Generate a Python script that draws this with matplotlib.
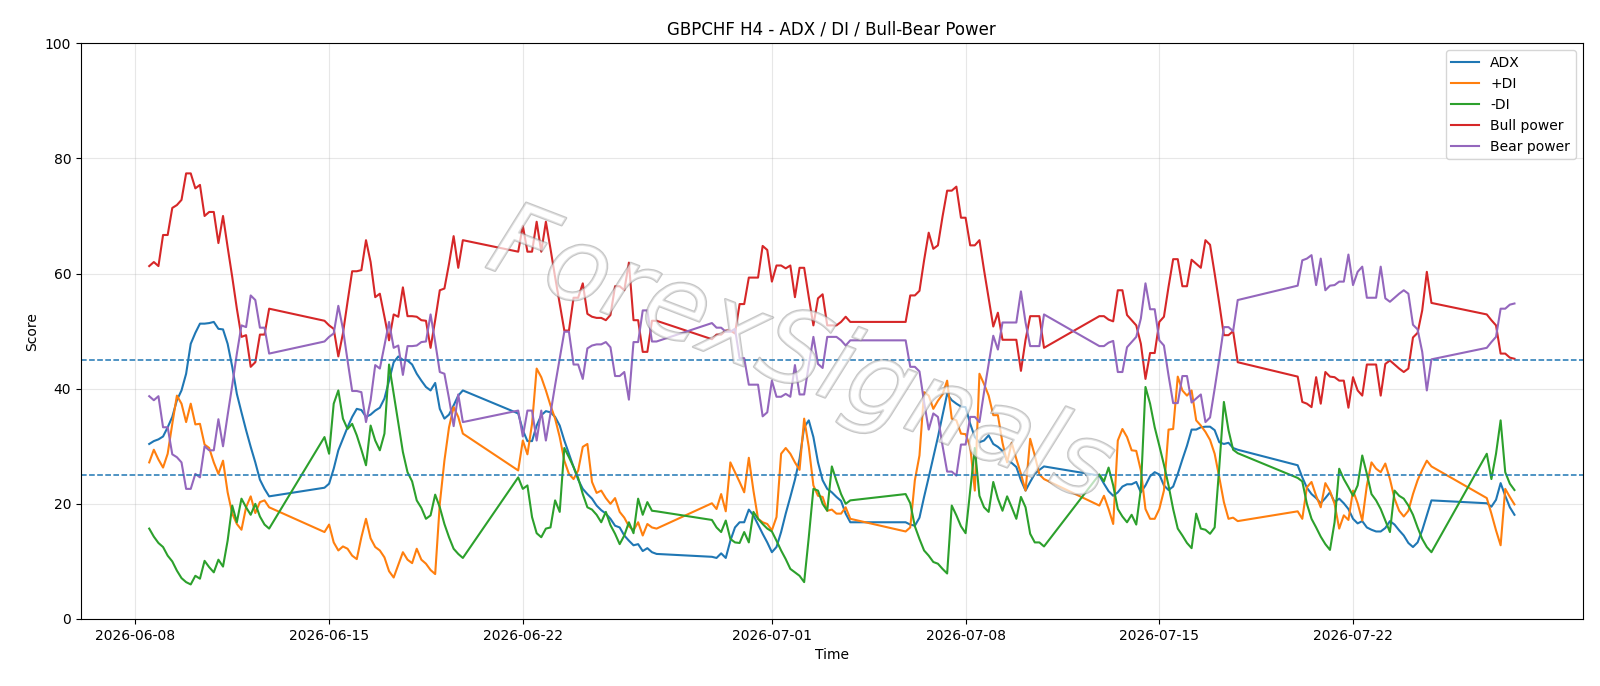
import matplotlib
matplotlib.use("Agg")
import matplotlib.pyplot as plt
import matplotlib.dates as mdates
import matplotlib.patheffects as pe
import pandas as pd

# H4 trading sessions (start, end) -- bars every 4 hours inside each session
sessions = [
    ("2026-06-08 12:00", "2026-06-12 20:00"),
    ("2026-06-14 20:00", "2026-06-19 20:00"),
    ("2026-06-21 20:00", "2026-06-26 20:00"),
    ("2026-06-28 20:00", "2026-07-03 20:00"),
    ("2026-07-05 20:00", "2026-07-10 20:00"),
    ("2026-07-12 20:00", "2026-07-17 20:00"),
    ("2026-07-20 00:00", "2026-07-24 20:00"),
    ("2026-07-26 20:00", "2026-07-27 20:00"),
]

adx = [
    30.4, 30.9, 31.2, 31.7, 33.3, 35.1, 38.0, 39.7, 42.6, 47.8, 49.7, 51.3, 51.3, 51.4, 51.6, 50.4, 50.3, 47.8, 43.8, 39.1, 35.9, 32.8, 29.9, 27.2, 24.2, 22.6, 21.3,
    22.8, 23.5, 26.1, 29.3, 31.3, 33.3, 35.1, 36.5, 36.3, 35.1, 35.5, 36.2, 36.7, 38.3, 41.4, 44.6, 45.6, 45.0, 44.9, 44.2, 42.6, 41.4, 40.3, 39.7, 41.0, 36.5, 34.8, 35.5, 37.1, 38.8, 39.7,
    35.7, 32.8, 30.9, 30.9, 33.6, 35.4, 36.1, 35.9, 35.1, 33.6, 31.0, 28.7, 26.4, 24.2, 22.6, 21.7, 20.9, 19.7, 18.9, 18.3, 17.4, 16.2, 15.9, 14.5, 13.6, 12.8, 13.0, 11.8, 12.3, 11.6, 11.3,
    10.8, 10.6, 11.4, 10.6, 13.6, 15.9, 16.8, 16.8, 19.0, 18.0, 16.4, 14.8, 13.3, 11.6, 12.5, 15.1, 18.3, 21.2, 24.2, 27.8, 33.3, 34.5, 31.6, 27.2, 24.1, 22.6, 22.0, 21.2, 20.5, 18.3, 16.8,
    16.8, 16.4, 16.2, 17.6, 21.2, 24.6, 28.1, 31.6, 35.4, 39.1, 38.0, 37.4, 36.9, 36.8, 33.9, 31.6, 30.7, 31.0, 31.9, 30.4, 29.9, 29.2, 27.5, 27.1, 26.4, 24.1, 22.3, 23.8, 25.2, 25.9, 26.5,
    24.9, 23.5, 22.2, 21.4, 22.0, 23.0, 23.4, 23.4, 23.8, 22.0, 23.2, 24.8, 25.5, 25.1, 23.2, 22.4, 23.0, 25.2, 27.7, 30.1, 32.9, 32.9, 33.3, 33.4, 33.4, 32.8, 30.7, 30.4, 30.6, 29.7, 29.4,
    26.7, 24.6, 22.8, 21.7, 21.0, 20.1, 21.0, 22.0, 20.3, 20.9, 20.1, 19.1, 17.4, 16.6, 17.0, 15.9, 15.5, 15.2, 15.2, 15.8, 17.0, 16.4, 15.4, 14.5, 13.2, 12.5, 13.3, 15.4, 18.0, 20.6,
    20.1, 19.5, 20.7, 23.6, 21.4, 19.4, 18.1,
]

plus_di = [
    27.2, 29.4, 27.7, 26.3, 28.7, 33.9, 38.8, 37.4, 34.2, 37.4, 33.8, 33.9, 30.3, 29.7, 27.2, 25.2, 27.5, 22.0, 18.3, 16.5, 15.5, 19.4, 21.3, 18.4, 20.3, 20.6, 19.4,
    15.1, 16.4, 13.3, 11.9, 12.6, 12.2, 11.0, 10.4, 14.2, 17.4, 14.0, 12.5, 11.9, 10.7, 8.3, 7.2, 9.4, 11.6, 10.3, 9.7, 12.2, 10.3, 9.6, 8.5, 7.8, 20.0, 27.5, 33.3, 36.8, 35.1, 32.2,
    25.8, 31.0, 28.6, 33.9, 43.5, 42.0, 39.7, 37.1, 34.8, 31.6, 27.5, 25.2, 24.3, 25.8, 29.9, 30.4, 23.8, 21.9, 22.3, 21.0, 20.0, 21.0, 18.6, 17.6, 16.1, 15.4, 16.8, 14.5, 16.5, 15.9, 15.7,
    20.1, 19.1, 21.7, 18.7, 27.2, 25.5, 23.8, 22.0, 28.0, 22.3, 17.4, 16.8, 16.5, 15.4, 17.7, 28.7, 29.7, 28.7, 27.2, 25.9, 34.8, 29.9, 23.2, 21.4, 21.2, 18.8, 19.0, 18.3, 18.3, 19.4, 17.4,
    15.2, 15.9, 24.1, 28.4, 39.4, 38.8, 36.5, 37.9, 39.0, 41.4, 34.8, 34.5, 32.2, 32.1, 29.9, 22.3, 42.6, 40.8, 38.8, 35.4, 35.4, 30.6, 27.2, 30.6, 27.8, 25.2, 22.3, 31.3, 28.4, 25.1, 24.3,
    19.7, 21.4, 19.1, 16.5, 31.0, 33.0, 31.6, 29.3, 29.2, 25.8, 19.1, 17.4, 17.4, 19.1, 22.3, 32.9, 33.0, 42.1, 39.7, 38.8, 39.7, 34.5, 33.6, 32.5, 31.1, 28.7, 24.6, 20.3, 17.4, 17.6, 17.0,
    18.7, 17.4, 22.9, 23.8, 21.4, 19.4, 23.6, 22.2, 20.0, 15.7, 18.0, 17.2, 22.3, 20.1, 17.1, 23.2, 27.2, 26.1, 25.5, 27.0, 24.3, 20.9, 18.8, 17.8, 18.8, 21.7, 24.1, 25.9, 27.5, 26.5,
    21.0, 18.3, 15.4, 12.8, 22.6, 21.2, 19.9,
]

minus_di = [
    15.7, 14.3, 13.2, 12.5, 11.0, 10.0, 8.4, 7.1, 6.4, 6.0, 7.5, 7.0, 10.1, 9.0, 8.1, 10.3, 9.1, 13.6, 19.7, 16.8, 20.9, 19.4, 18.1, 20.0, 17.8, 16.4, 15.7,
    31.6, 28.7, 37.4, 39.7, 34.8, 33.0, 33.9, 31.9, 29.4, 26.7, 33.6, 31.0, 29.3, 32.2, 44.2, 39.1, 33.9, 29.0, 25.5, 23.9, 20.6, 19.3, 17.4, 18.0, 21.6, 19.4, 16.5, 14.2, 12.2, 11.3, 10.6,
    24.6, 22.6, 23.2, 17.7, 14.9, 14.2, 15.7, 15.9, 20.6, 18.6, 29.7, 28.1, 26.4, 24.5, 21.7, 19.4, 19.0, 18.1, 16.8, 18.6, 16.3, 14.8, 13.0, 14.5, 16.8, 14.9, 20.9, 18.1, 20.3, 18.8, 18.7,
    17.2, 15.9, 15.1, 17.1, 13.9, 13.3, 13.2, 15.1, 13.3, 18.6, 17.4, 16.5, 15.7, 15.2, 13.6, 11.9, 10.4, 8.7, 8.1, 7.5, 6.4, 14.2, 22.6, 22.3, 20.0, 18.8, 26.5, 24.0, 21.7, 20.0, 20.6,
    21.7, 20.1, 16.1, 13.9, 11.9, 11.0, 9.9, 9.6, 8.7, 7.9, 19.7, 18.0, 16.1, 14.9, 22.3, 29.7, 21.4, 19.4, 18.6, 23.8, 20.9, 18.8, 21.3, 19.4, 17.4, 21.2, 19.4, 14.8, 13.3, 13.3, 12.6,
    25.1, 23.9, 26.3, 23.2, 19.1, 17.8, 16.8, 18.1, 16.4, 22.6, 40.3, 37.4, 33.3, 30.1, 26.8, 23.2, 19.1, 15.7, 14.5, 13.2, 12.3, 18.3, 15.7, 15.5, 14.8, 15.9, 26.4, 37.7, 32.8, 29.4, 28.8,
    24.5, 23.9, 20.0, 17.4, 15.9, 14.3, 13.0, 12.0, 16.8, 26.1, 24.3, 22.9, 21.4, 23.2, 28.4, 25.2, 21.7, 20.6, 19.1, 17.1, 15.1, 22.3, 21.4, 20.9, 19.7, 18.1, 15.9, 13.9, 12.5, 11.6,
    28.7, 24.3, 28.7, 34.5, 25.5, 23.5, 22.4,
]

bull_power = [
    61.3, 62.0, 61.3, 66.7, 66.7, 71.4, 71.9, 72.8, 77.4, 77.4, 74.8, 75.4, 70.0, 70.7, 70.7, 65.3, 70.0, 64.6, 59.4, 53.9, 49.0, 49.3, 43.8, 44.6, 49.4, 49.4, 53.9,
    51.8, 51.0, 50.4, 45.6, 49.6, 55.1, 60.4, 60.4, 60.6, 65.8, 62.0, 55.9, 56.5, 52.5, 48.4, 52.9, 52.5, 57.6, 52.6, 52.6, 52.5, 51.9, 51.8, 47.1, 51.9, 57.1, 57.4, 61.7, 66.5, 61.0, 65.8,
    63.8, 68.3, 63.8, 63.8, 69.0, 63.8, 69.0, 64.3, 59.4, 54.8, 50.1, 50.1, 55.8, 55.8, 58.3, 53.0, 52.5, 52.3, 52.3, 51.9, 52.8, 57.8, 57.8, 57.1, 61.9, 51.9, 51.9, 46.4, 46.4, 51.8, 51.8,
    48.6, 49.4, 49.4, 50.1, 50.1, 49.6, 54.7, 54.7, 59.3, 59.3, 59.3, 64.8, 64.1, 58.6, 61.4, 61.4, 60.9, 61.4, 55.9, 61.0, 61.0, 55.9, 51.0, 55.7, 56.4, 51.0, 51.0, 51.0, 51.6, 52.5, 51.6,
    51.6, 56.2, 56.2, 57.0, 62.3, 67.1, 64.3, 64.9, 69.9, 74.4, 74.4, 75.1, 69.7, 69.7, 64.9, 64.9, 65.8, 60.6, 55.7, 50.8, 53.2, 48.5, 48.5, 48.5, 48.5, 43.1, 48.5, 52.6, 52.6, 52.6, 47.1,
    52.6, 52.6, 52.0, 51.7, 57.1, 57.1, 52.8, 51.9, 51.0, 47.8, 41.7, 46.2, 46.2, 51.6, 52.5, 57.7, 62.5, 62.5, 57.8, 57.8, 62.4, 61.7, 61.0, 65.8, 65.0, 60.0, 54.8, 49.3, 49.3, 50.0, 44.6,
    42.1, 37.7, 37.4, 36.8, 42.0, 37.4, 42.9, 42.1, 42.0, 41.4, 41.4, 36.7, 42.0, 39.7, 38.8, 44.2, 44.2, 44.2, 38.8, 44.3, 44.9, 44.2, 43.5, 42.9, 43.5, 48.9, 49.7, 53.6, 60.3, 54.9,
    52.9, 51.9, 51.0, 46.1, 46.1, 45.4, 45.2,
]

bear_power = [
    38.7, 38.0, 38.7, 33.3, 33.3, 28.6, 28.1, 27.2, 22.6, 22.6, 25.2, 24.6, 30.0, 29.3, 29.3, 34.7, 30.0, 35.4, 40.6, 46.1, 51.0, 50.7, 56.2, 55.4, 50.6, 50.6, 46.1,
    48.2, 49.0, 49.6, 54.4, 50.4, 44.9, 39.6, 39.6, 39.4, 34.2, 38.0, 44.1, 43.5, 47.5, 51.6, 47.1, 47.5, 42.4, 47.4, 47.4, 47.5, 48.1, 48.2, 52.9, 48.1, 42.9, 42.6, 38.3, 33.5, 39.0, 34.2,
    36.2, 31.7, 36.2, 36.2, 31.0, 36.2, 31.0, 35.7, 40.6, 45.2, 49.9, 49.9, 44.2, 44.2, 41.7, 47.0, 47.5, 47.7, 47.7, 48.1, 47.2, 42.2, 42.2, 42.9, 38.1, 48.1, 48.1, 53.6, 53.6, 48.2, 48.2,
    51.4, 50.6, 50.6, 49.9, 49.9, 50.4, 45.3, 45.3, 40.7, 40.7, 40.7, 35.2, 35.9, 41.4, 38.6, 38.6, 39.1, 38.6, 44.1, 39.0, 39.0, 44.1, 49.0, 44.3, 43.6, 49.0, 49.0, 49.0, 48.4, 47.5, 48.4,
    48.4, 43.8, 43.8, 43.0, 37.7, 32.9, 35.7, 35.1, 30.1, 25.6, 25.6, 24.9, 30.3, 30.3, 35.1, 35.1, 34.2, 39.4, 44.3, 49.2, 46.8, 51.5, 51.5, 51.5, 51.5, 56.9, 51.5, 47.4, 47.4, 47.4, 52.9,
    47.4, 47.4, 48.0, 48.3, 42.9, 42.9, 47.2, 48.1, 49.0, 52.2, 58.3, 53.8, 53.8, 48.4, 47.5, 42.3, 37.5, 37.5, 42.2, 42.2, 37.6, 38.3, 39.0, 34.2, 35.0, 40.0, 45.2, 50.7, 50.7, 50.0, 55.4,
    57.9, 62.3, 62.6, 63.2, 58.0, 62.6, 57.1, 57.9, 58.0, 58.6, 58.6, 63.3, 58.0, 60.3, 61.2, 55.8, 55.8, 55.8, 61.2, 55.7, 55.1, 55.8, 56.5, 57.1, 56.5, 51.1, 50.3, 46.4, 39.7, 45.1,
    47.1, 48.1, 49.0, 53.9, 53.9, 54.6, 54.8,
]

series_labels = ["ADX", "+DI", "-DI", "Bull power", "Bear power"]
threshold_levels = [45, 25]
watermark = "ForexSignals"

times = pd.DatetimeIndex(
    pd.concat([pd.Series(pd.date_range(s, e, freq="4h")) for s, e in sessions], ignore_index=True)
)

fig = plt.figure(figsize=(16, 6.86), dpi=100)
ax = fig.add_axes([0.0506, 0.0977, 0.9386, 0.8392])

colors = ["tab:blue", "tab:orange", "tab:green", "tab:red", "tab:purple"]
for vals, lab, c in zip([adx, plus_di, minus_di, bull_power, bear_power], series_labels, colors):
    ax.plot(times, vals, label=lab, color=c, linewidth=1.5)

for lvl in threshold_levels:
    ax.axhline(lvl, color="tab:blue", linestyle="--", linewidth=1.1)

ax.set_ylim(0, 100)
ax.grid(True, alpha=0.3)
ax.set_title("GBPCHF H4 - ADX / DI / Bull-Bear Power")
ax.set_xlabel("Time")
ax.set_ylabel("Score")
ax.xaxis.set_major_formatter(mdates.DateFormatter("%Y-%m-%d"))
ax.legend(loc="upper right")

ax.text(0.479, 0.455, watermark, transform=ax.transAxes, fontsize=74,
        rotation=-21, ha="center", va="center", color=(1, 1, 1, 0.45),
        style="italic",
        path_effects=[pe.Stroke(linewidth=1.6, foreground=(0.55, 0.55, 0.55, 0.5)), pe.Normal()],
        zorder=5)

fig.savefig("out.png", dpi=100)
